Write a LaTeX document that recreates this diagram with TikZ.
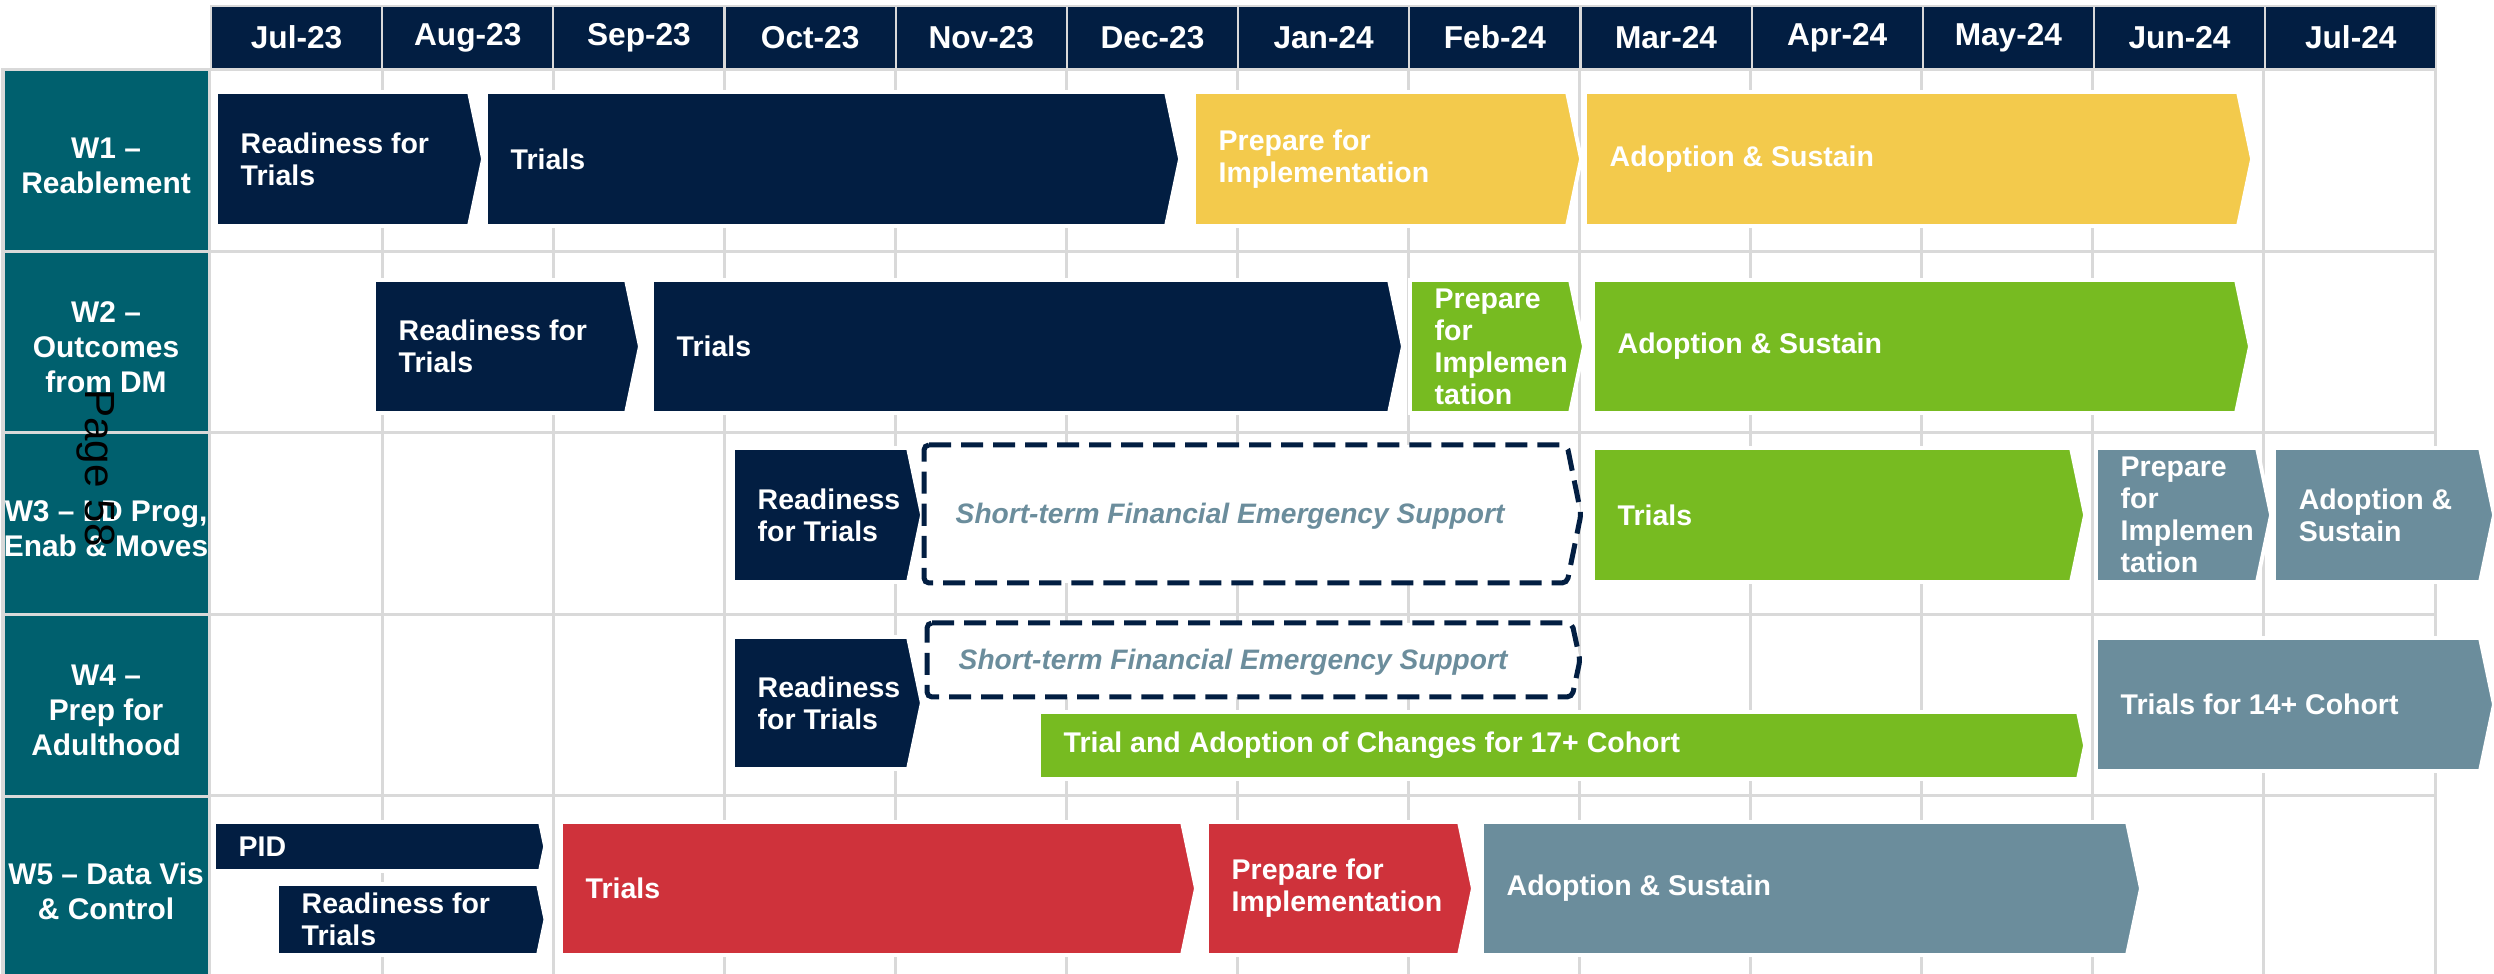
\documentclass[tikz,border=0pt]{standalone}
\usepackage{fontspec}
\setmainfont{Liberation Sans}
\usepackage{tikz}
\usetikzlibrary{positioning}

\definecolor{darknavy}{HTML}{021E42}
\definecolor{amber}{HTML}{F3CA4C}
\definecolor{leaf}{HTML}{77BB21}
\definecolor{slate}{HTML}{6B8D9C}
\definecolor{crimson}{HTML}{CF323B}
\definecolor{wsteal}{HTML}{00606E}
\definecolor{gridgrey}{HTML}{D9D9D9}

% chevron bar: name, colour, x left, x right, y top, y bottom, text
\newcommand{\phasebar}[7]{%
  \filldraw[fill=#2, draw=white, line width=1.1pt]
    (#3,#5) -- (#4,#5) -- ({#4+0.105*(#6-#5)},{(#5+#6)/2}) -- (#4,#6) -- (#3,#6) -- cycle;
  \node[phasetext] (#1) at (#3,{(#5+#6)/2}) {#7};
}

\begin{document}
\begin{tikzpicture}[
x=0.01cm, y=-0.01cm,
headcell/.style={rectangle, fill=darknavy, draw=gridgrey, line width=0.6pt, outer sep=0pt, inner sep=0pt, minimum width=1.7108cm, minimum height=0.63cm, text=white, font=\fontsize{9}{11}\selectfont\bfseries},
wslabel/.style={rectangle, fill=wsteal, draw=gridgrey, line width=0.03cm, outer sep=0pt, inner sep=0pt, minimum width=2.06cm, minimum height=1.814cm, text height=18.7pt, text=white, align=center, font=\fontsize{8.5}{10}\selectfont\bfseries},
threelines/.style={text height=28.7pt},
phasetext/.style={anchor=west, inner xsep=0.24cm, inner ysep=0pt, text=white, align=left, font=\fontsize{8.1}{9.1}\selectfont\bfseries},
fesbox/.style={draw=darknavy, fill=white, line width=0.05cm, dash pattern=on 0.22cm off 0.1cm, rounded corners=0.05cm},
festext/.style={anchor=west, inner xsep=0.31cm, inner ysep=0pt, text=slate, font=\fontsize{8}{9.1}\selectfont\bfseries\itshape},
gridline/.style={draw=gridgrey, line width=0.03cm},
pagemark/.style={rotate=-90, text=black, font=\fontsize{12}{14}\selectfont},
]
\useasboundingbox[fill=white] (0,0) rectangle (2494,974);

%Grid
\foreach \k in {1,...,13}
  \draw[gridline] ({211+171.08*\k},70) -- ({211+171.08*\k},974);
\foreach \r in {0,...,4}
  \draw[gridline] (209,{70+181.4*\r}) -- (2436,{70+181.4*\r});

%Months
\node[headcell, anchor=north west] (jul23) at (211,6) {Jul-23};
\node[headcell] (aug23) [right=0pt of jul23] {Aug-23};
\node[headcell] (sep23) [right=0pt of aug23] {Sep-23};
\node[headcell] (oct23) [right=0pt of sep23] {Oct-23};
\node[headcell] (nov23) [right=0pt of oct23] {Nov-23};
\node[headcell] (dec23) [right=0pt of nov23] {Dec-23};
\node[headcell] (jan24) [right=0pt of dec23] {Jan-24};
\node[headcell] (feb24) [right=0pt of jan24] {Feb-24};
\node[headcell] (mar24) [right=0pt of feb24] {Mar-24};
\node[headcell] (apr24) [right=0pt of mar24] {Apr-24};
\node[headcell] (may24) [right=0pt of apr24] {May-24};
\node[headcell] (jun24) [right=0pt of may24] {Jun-24};
\node[headcell] (jul24) [right=0pt of jun24] {Jul-24};

%Workstreams
\node[wslabel, anchor=north west] (w1) at (3,70) {W1 \textendash\\Reablement};
\node[wslabel, threelines] (w2) [below=0pt of w1] {W2 \textendash\\Outcomes\\from DM};
\node[wslabel] (w3) [below=0pt of w2] {W3 \textendash{} LD Prog,\\Enab \& Moves};
\node[wslabel, threelines] (w4) [below=0pt of w3] {W4 \textendash\\Prep for\\Adulthood};
\node[wslabel] (w5) [below=0pt of w4] {W5 \textendash{} Data Vis\\\& Control};

%W1
\phasebar{w1ready}{darknavy}{216}{469}{92}{226}{Readiness for\\Trials}
\phasebar{w1trial}{darknavy}{486}{1166}{92}{226}{Trials}
\phasebar{w1prep}{amber}{1194}{1567}{92}{226}{Prepare for\\Implementation}
\phasebar{w1adopt}{amber}{1585}{2238}{92}{226}{Adoption \& Sustain}
%W2
\phasebar{w2ready}{darknavy}{374}{626}{280}{413}{Readiness for\\Trials}
\phasebar{w2trial}{darknavy}{652}{1389}{280}{413}{Trials}
\phasebar{w2prep}{leaf}{1410}{1570}{280}{413}{Prepare\\for\\Implemen\\tation}
\phasebar{w2adopt}{leaf}{1593}{2236}{280}{413}{Adoption \& Sustain}
%W3
\phasebar{w3ready}{darknavy}{733}{908}{448}{582}{Readiness\\for Trials}
\draw[fesbox] (924,445) -- (1567,445) -- (1581,514) -- (1567,583) -- (924,583) -- cycle;
\node[festext] (w3fes) at (924,516) {Short-term Financial Emergency Support};
\phasebar{w3trial}{leaf}{1593}{2071}{448}{582}{Trials}
\phasebar{w3prep}{slate}{2096}{2257}{448}{582}{Prepare\\for\\Implemen\\tation}
\phasebar{w3adopt}{slate}{2274}{2480}{448}{582}{Adoption \&\\Sustain}
%W4
\phasebar{w4ready}{darknavy}{733}{908}{637}{769}{Readiness\\for Trials}
\draw[fesbox] (927,623) -- (1572,623) -- (1580,660) -- (1572,697) -- (927,697) -- cycle;
\node[festext] (w4fes) at (927,662) {Short-term Financial Emergency Support};
\phasebar{w4trial}{leaf}{1039}{2078}{712}{779}{Trial and Adoption of Changes for 17+ Cohort}
\phasebar{w4cohort}{slate}{2096}{2480}{638}{771}{Trials for 14+ Cohort}
%W5
\phasebar{w5pid}{darknavy}{214}{540}{822}{871}{PID}
\phasebar{w5ready}{darknavy}{277}{538}{884}{955}{Readiness for\\Trials}
\phasebar{w5trial}{crimson}{561}{1182}{822}{955}{Trials}
\phasebar{w5prep}{crimson}{1207}{1459}{822}{955}{Prepare for\\Implementation}
\phasebar{w5adopt}{slate}{1482}{2127}{822}{955}{Adoption \& Sustain}

\node[pagemark] (pageno) at (96,468) {Page 58};
\end{tikzpicture}
\end{document}
